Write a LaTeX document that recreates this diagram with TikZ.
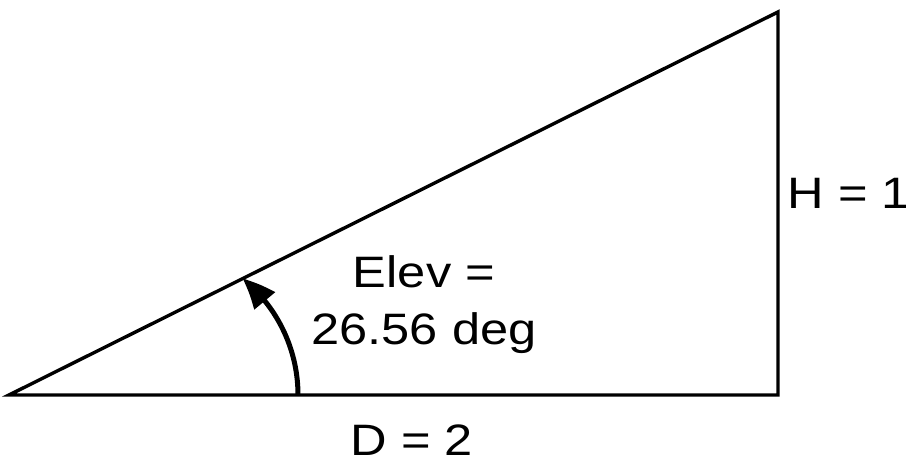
\documentclass[tikz,border=0pt]{standalone}
\usepackage{fontspec}
\setmainfont{Liberation Sans}[FakeStretch=1.15]
\usepackage{tikz}
\usetikzlibrary{arrows.meta,bending}

\begin{document}
\begin{tikzpicture}[
    x=1pt, y=1pt,
    side/.style={line width=3.4pt, line join=miter},
    arr/.style={-{Triangle[length=32pt, width=26pt, bend]}, line width=5pt},
    lbl/.style={font=\fontsize{44}{57}\selectfont, inner sep=0pt, anchor=base, align=center}
  ]
    \useasboundingbox (0,0) rectangle (906,463);
    % Corners
    \coordinate (left) at (9,68);
    \coordinate (right) at (778,68);
    \coordinate (top) at (778,451);
    \coordinate (arcstart) at (298,68);
    % Triangle
    \draw[side] (left) -- (right) -- (top) -- cycle;
    % Angle arrow
    \draw[arr] (arcstart) arc[start angle=0, end angle=51, radius=150];
    % Labels
    \node[lbl] (height) at (849,254) {H = 1};
    \node[lbl] (dist) at (412,7) {D = 2};
    \node[lbl] (elev) at (424,118) {Elev =\\26.56 deg};
  \end{tikzpicture}
\end{document}
